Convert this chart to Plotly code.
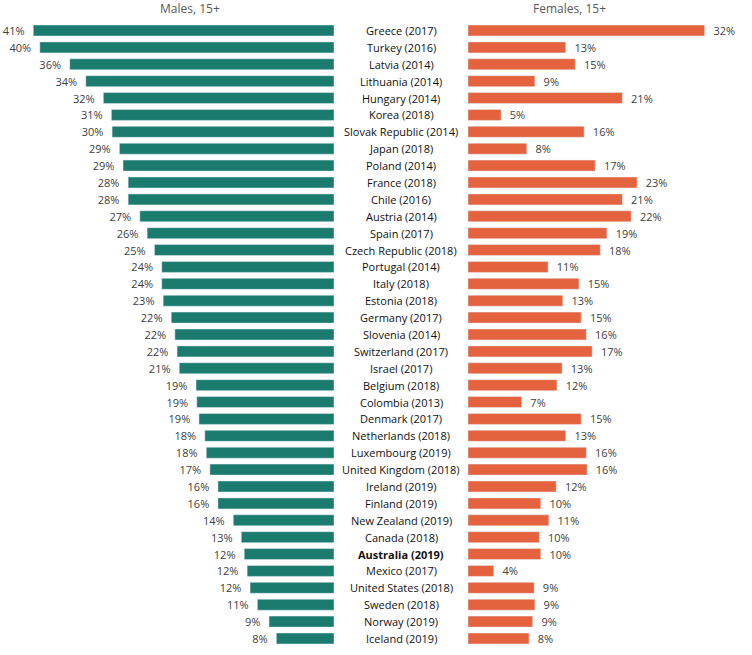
import plotly.graph_objects as go

countries = ["Greece (2017)", "Turkey (2016)", "Latvia (2014)", "Lithuania (2014)", "Hungary (2014)",
             "Korea (2018)", "Slovak Republic (2014)", "Japan (2018)", "Poland (2014)", "France (2018)",
             "Chile (2016)", "Austria (2014)", "Spain (2017)", "Czech Republic (2018)", "Portugal (2014)",
             "Italy (2018)", "Estonia (2018)", "Germany (2017)", "Slovenia (2014)", "Switzerland (2017)",
             "Israel (2017)", "Belgium (2018)", "Colombia (2013)", "Denmark (2017)", "Netherlands (2018)",
             "Luxembourg (2019)", "United Kingdom (2018)", "Ireland (2019)", "Finland (2019)",
             "New Zealand (2019)", "Canada (2018)", "Australia (2019)", "Mexico (2017)",
             "United States (2018)", "Sweden (2018)", "Norway (2019)", "Iceland (2019)"]

males = [41.2, 40.3, 36.2, 34.0, 31.6, 30.5, 30.4, 29.4, 28.9, 28.2,
         28.2, 26.6, 25.6, 24.6, 23.6, 23.6, 23.4, 22.3, 21.8, 21.5,
         21.2, 18.9, 18.8, 18.5, 17.7, 17.5, 17.0, 15.9, 15.9,
         13.8, 12.7, 12.3, 11.9, 11.5, 10.5, 8.9, 7.9]
male_labels = [41, 40, 36, 34, 32, 31, 30, 29, 29, 28, 28, 27, 26, 25, 24, 24, 23, 22, 22, 22,
               21, 19, 19, 19, 18, 18, 17, 16, 16, 14, 13, 12, 12, 12, 11, 9, 8]

females = [32.2, 13.3, 14.6, 9.1, 21.0, 4.5, 15.8, 8.0, 17.3, 23.0,
           21.0, 22.2, 18.9, 18.0, 10.9, 15.1, 12.9, 15.4, 16.1, 16.9,
           12.8, 12.1, 7.3, 15.4, 13.3, 16.1, 16.2, 12.0, 9.9,
           11.0, 9.7, 9.9, 3.5, 9.0, 9.1, 8.8, 8.3]
female_labels = [32, 13, 15, 9, 21, 5, 16, 8, 17, 23, 21, 22, 19, 18, 11, 15, 13, 15, 16, 17,
                 13, 12, 7, 15, 13, 16, 16, 12, 10, 11, 10, 10, 4, 9, 9, 9, 8]

highlight = "Australia (2019)"

MALE_COLOR = "#1a7b6e"
FEMALE_COLOR = "#e4623d"
FONT = "Open Sans"
W, H = 752, 655
male_end = 334 / W
female_start = 468 / W

fig = go.Figure()
fig.add_trace(go.Bar(
    y=countries, x=males, orientation="h", xaxis="x", yaxis="y",
    marker_color=MALE_COLOR,
    text=[f"{v}%\u00a0\u00a0" for v in male_labels], textposition="outside",
    constraintext="none", cliponaxis=False,
    textfont=dict(family=FONT, size=11, color="#404040"),
    hoverinfo="skip", showlegend=False,
))
fig.add_trace(go.Bar(
    y=countries, x=females, orientation="h", xaxis="x2", yaxis="y",
    marker_color=FEMALE_COLOR,
    text=[f"\u00a0\u00a0{v}%" for v in female_labels], textposition="outside",
    constraintext="none", cliponaxis=False,
    textfont=dict(family=FONT, size=11, color="#404040"),
    hoverinfo="skip", showlegend=False,
))

for c in countries:
    label = f"<b>{c}</b>" if c == highlight else c
    fig.add_annotation(x=401 / W, xref="paper", y=c, yref="y", text=label,
                       showarrow=False, xanchor="center", yanchor="middle",
                       font=dict(family=FONT, size=11, color="#111111"))

fig.add_annotation(x=190 / W, y=1, xref="paper", yref="paper", yshift=2, text="Males, 15+",
                   showarrow=False, xanchor="center", yanchor="bottom",
                   font=dict(family=FONT, size=12, color="#595959"))
fig.add_annotation(x=569 / W, y=1, xref="paper", yref="paper", yshift=2, text="Females, 15+",
                   showarrow=False, xanchor="center", yanchor="bottom",
                   font=dict(family=FONT, size=12, color="#595959"))

fig.update_layout(
    width=W, height=H,
    margin=dict(l=0, r=0, t=21, b=7),
    paper_bgcolor="white", plot_bgcolor="white",
    bargap=0.35,
    xaxis=dict(domain=[0, male_end], range=[334 / 7.3, 0], visible=False, fixedrange=True),
    xaxis2=dict(domain=[female_start, 1], range=[0, 284 / 7.35], visible=False, fixedrange=True),
    yaxis=dict(categoryorder="array", categoryarray=countries, autorange="reversed",
               visible=False, fixedrange=True),
)

fig.write_html("out.html")
